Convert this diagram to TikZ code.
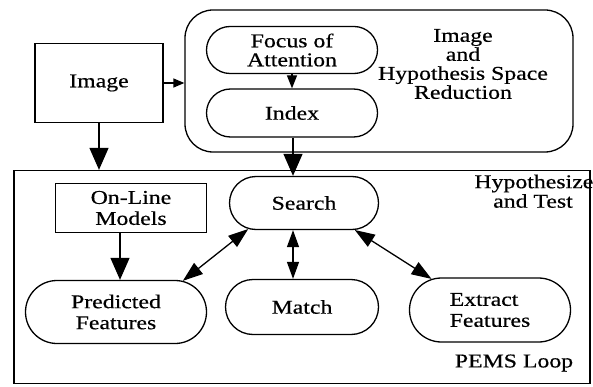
\documentclass[tikz,border=0pt]{standalone}
\usepackage{fontspec}
\setmainfont{Liberation Serif}[FakeStretch=1.22,FakeBold=0.5]
\usetikzlibrary{arrows.meta,shapes.misc}
\begin{document}
\begin{tikzpicture}[x=1pt,y=-1pt,
  line width=1.3pt,
  every node/.style={font=\fontsize{19.5}{21}\selectfont, align=center, inner sep=0pt},
  stadium/.style={draw, rounded rectangle, rounded rectangle arc length=180},
  boxnode/.style={draw, rectangle},
  bighead/.style={-{Triangle[length=22pt,width=19pt]}},
  midhead/.style={-{Triangle[length=13pt,width=10pt]}},
  smallhead/.style={-{Triangle[length=11pt,width=9pt]}},
  dbl/.style={{Triangle[length=20pt,width=14pt]}-{Triangle[length=20pt,width=14pt]}},
  vdbl/.style={{Triangle[length=17pt,width=12pt]}-{Triangle[length=17pt,width=12pt]}}]
\useasboundingbox (0,0) rectangle (593,387);
% containers
\node[draw, rounded corners=28pt, minimum width=388pt, minimum height=142pt] (red) at (379,81) {};
\node[draw, rectangle, minimum width=576pt, minimum height=213pt] (pems) at (302,277) {};
% nodes
\node[boxnode, minimum width=128pt, minimum height=79pt] (img) at (99,83) {Image};
\node[stadium, minimum width=171pt, minimum height=47pt, font=\fontsize{19.5}{19}\selectfont] (foc) at (292,50) {Focus of\\Attention};
\node[stadium, minimum width=171pt, minimum height=48pt] (idx) at (292,113) {Index};
\node[font=\fontsize{19.5}{19}\selectfont] (redlbl) at (463,64) {Image\\and\\Hypothesis Space\\Reduction};
\node[anchor=north east] (hyp) at (594,174) {Hypothesize};
\node (test) at (533,201) {and Test};
\node[boxnode, minimum width=151pt, minimum height=49pt] (onl) at (131,208) {On-Line\\Models};
\node[stadium, minimum width=149pt, minimum height=53pt] (srch) at (304,203) {Search};
\node[stadium, minimum width=181pt, minimum height=63pt] (pred) at (116,312) {Predicted\\Features};
\node[stadium, minimum width=153pt, minimum height=55pt] (mtch) at (302,307) {Match};
\node[stadium, minimum width=161pt, minimum height=64pt, align=left] (extr) at (490,310) {Extract\\Features};
\node (loop) at (514,363) {PEMS Loop};
% connectors
\draw[smallhead] (img.east) -- (img.east -| red.west);
\draw[midhead] (foc.south) -- (idx.north);
\draw[bighead] (img.south) -- (img.south |- pems.north);
\draw[bighead] ([xshift=1pt]idx.south) -- ([xshift=1pt]idx.south |- srch.north);
\draw[bighead] ([xshift=-11pt]onl.south) -- ([xshift=-11pt]onl.south |- pred.north);
\draw[dbl] (srch.205) -- (pred.25);
\draw[vdbl] ([xshift=-11pt]srch.south) -- ([xshift=-11pt]srch.south |- mtch.north);
\draw[dbl] (srch.-28) -- (extr.152);
\end{tikzpicture}
\end{document}
